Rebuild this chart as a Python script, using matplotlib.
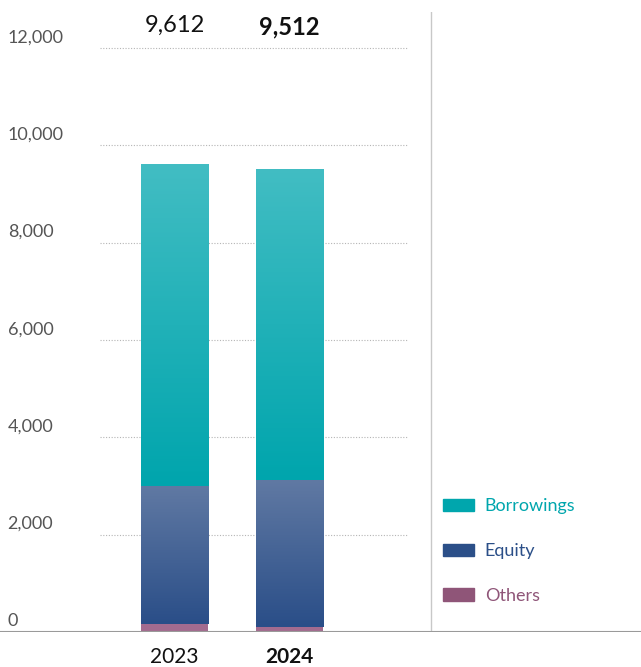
import numpy as np
import matplotlib.pyplot as plt
from matplotlib.patches import Patch
from matplotlib.colors import LinearSegmentedColormap

# datos
years = ['2023', '2024']
totals = ['9,612', '9,512']
others = [170, 100]
equity = [2830, 3020]
borrowings = [6612, 6392]
y_ticks = [0, 2000, 4000, 6000, 8000, 10000, 12000]

plt.rcParams['font.family'] = ['Lato', 'DejaVu Sans']

fig = plt.figure(figsize=(6.41, 6.67), dpi=100)
ax = fig.add_axes([0, 35 / 667, 1, 620 / 667])
ax.set_xlim(-1.517, 4.057)
ax.set_ylim(0, 12740)
ax.axis('off')

x = np.arange(len(years))
w = 0.583

# barras apiladas (los colores de relleno se sustituyen por degradados)
b_others = ax.bar(x, others, w, color='#a36b8f', zorder=2)
b_equity = ax.bar(x, equity, w, bottom=others, zorder=2)
b_borrow = ax.bar(x, borrowings, w, bottom=np.array(others) + np.array(equity), zorder=2)

grad_equity = LinearSegmentedColormap.from_list('eq', ['#2a4e88', '#6079a3'])
grad_borrow = LinearSegmentedColormap.from_list('bo', ['#00a5ad', '#42bdc3'])


def degradado(bars, cmap):
    for p in bars:
        p.set_facecolor('none')
        x0, y0 = p.get_x(), p.get_y()
        x1, y1 = x0 + p.get_width(), y0 + p.get_height()
        g = np.linspace(0, 1, 256).reshape(-1, 1)
        im = ax.imshow(g, cmap=cmap, origin='lower', aspect='auto',
                       extent=[x0, x1, y0, y1], zorder=1.5)
        im.set_clip_path(p)


degradado(b_equity, grad_equity)
degradado(b_borrow, grad_borrow)
ax.set_xlim(-1.517, 4.057)
ax.set_ylim(0, 12740)

# rejilla punteada y etiquetas del eje
for v in y_ticks:
    if v > 0:
        ax.hlines(v, -0.648, 2.03, colors='#b5b5b5', linestyles=(0, (1, 1.5)), lw=0.8, zorder=0)
    ax.annotate(f'{v:,}', xy=(0.012, v), xycoords=ax.get_yaxis_transform(),
                xytext=(0, 2), textcoords='offset points', ha='left', va='bottom',
                fontsize=13, color='#555555')

ax.axhline(0, color='#9a9a9a', lw=1.5, zorder=3)
ax.axvline(2.23, color='#c8c8c8', lw=1, zorder=0)

# totales arriba y años abajo
for i, (yr, t) in enumerate(zip(years, totals)):
    peso = 'bold' if i == 1 else 'normal'
    ax.text(x[i], 0.995, t, transform=ax.get_xaxis_transform(), ha='center', va='top',
            fontsize=17, fontweight=peso, color='#111111')
    ax.annotate(yr, xy=(x[i], 0), xytext=(0, -11), textcoords='offset points',
                ha='center', va='top', fontsize=15, fontweight=peso, color='#111111',
                annotation_clip=False)

handles = [Patch(color='#00a6ad'), Patch(color='#2b4f88'), Patch(color='#8f5578')]
leg = fig.legend(handles, ['Borrowings', 'Equity', 'Others'], loc='upper left',
                 bbox_to_anchor=(427 / 641, 1 - 482 / 667), frameon=False, fontsize=13,
                 handlelength=1.7, handleheight=0.7, handletextpad=0.6, labelspacing=1.6,
                 labelcolor=['#00a6ad', '#2b4f88', '#8f5578'])

fig.savefig('out.png', dpi=100)
